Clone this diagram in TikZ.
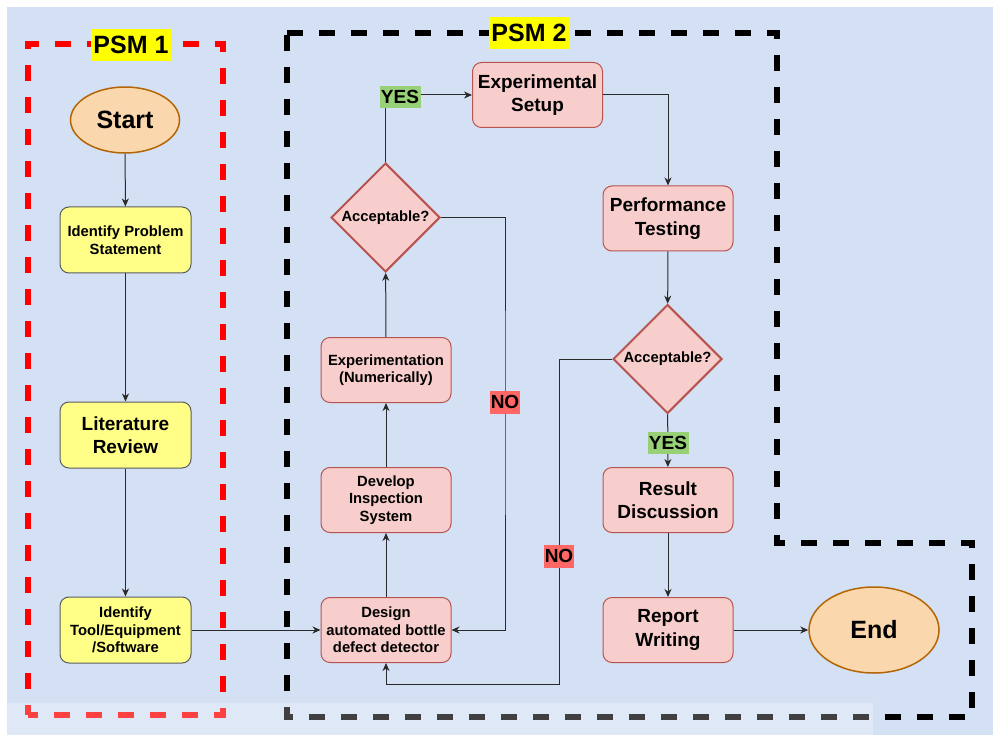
\documentclass[tikz,border=0pt]{standalone}
\usepackage{fontspec}
\setmainfont{Liberation Sans}
\usetikzlibrary{shapes.geometric,arrows.meta}

\definecolor{bgblue}{HTML}{D4E1F5}
\definecolor{pinkfill}{HTML}{F8CECC}
\definecolor{pinkline}{HTML}{B85450}
\definecolor{yelfill}{HTML}{FFFF88}
\definecolor{yelline}{HTML}{5A5C60}
\definecolor{orfill}{HTML}{FAD7AC}
\definecolor{orline}{HTML}{B46504}
\definecolor{yesgreen}{HTML}{97D077}
\definecolor{nored}{HTML}{FF6666}
\definecolor{psmyellow}{HTML}{FFFF00}
\definecolor{wire}{HTML}{2A2A2A}

\tikzset{
  smalltxt/.style={font=\bfseries\fontsize{14.8}{17.5}\selectfont},
  bigtxt/.style={font=\bfseries\fontsize{19}{23.5}\selectfont},
  yelbox/.style={rectangle, rounded corners=9pt, draw=yelline, line width=1pt,
    fill=yelfill, minimum width=131pt, minimum height=66pt, inner sep=1pt, align=center},
  pinkbox/.style={rectangle, rounded corners=9pt, draw=pinkline, line width=1pt,
    fill=pinkfill, minimum width=130pt, minimum height=65pt, inner sep=1pt, align=center},
  decide/.style={diamond, draw=pinkline, line width=2pt, fill=pinkfill,
    minimum width=109pt, minimum height=109pt, inner sep=0pt, smalltxt},
  terminal/.style={ellipse, draw=orline, line width=1.5pt, fill=orfill, inner sep=0pt,
    font=\bfseries\fontsize{25}{30}\selectfont},
  arr/.style={draw=wire, line width=1pt, -{Stealth[length=8pt,width=7pt,inset=2.5pt]}},
  yeslab/.style={fill=yesgreen, inner sep=0pt, minimum width=41pt, minimum height=22pt,
    font=\bfseries\fontsize{19}{22}\selectfont},
  nolab/.style={fill=nored, inner sep=0pt, minimum width=30pt, minimum height=23pt,
    font=\bfseries\fontsize{19}{22}\selectfont},
  psmlab/.style={fill=psmyellow, inner sep=0pt, minimum width=80pt, minimum height=32pt,
    font=\bfseries\fontsize{25}{30}\selectfont},
  phaseframe/.style={line width=5.5pt, dash pattern=on 16pt off 16pt},
}

\begin{document}
\begin{tikzpicture}[x=1pt, y=-1pt]
  \useasboundingbox (0,0) rectangle (993,735);
  \fill[white] (0,0) rectangle (993,735);
  \fill[bgblue] (7,7) rectangle (993,735);

  % phase frames
  \draw[phaseframe, draw=red, dash phase=6pt] (28,715) -- (28,44) -- (223,44)
    -- (223,715) -- cycle;
  \draw[phaseframe, draw=black] (287,33) -- (777,33) -- (777,543) -- (972,543)
    -- (972,717) -- (287,717) -- cycle;
  \node[psmlab] (psm1) at (131,45) {PSM 1};
  \node[psmlab] (psm2) at (529,33) {PSM 2};

  % PSM 1 steps
  \node[terminal, minimum width=109pt, minimum height=66pt] (start) at (125,120) {Start};
  \node[yelbox, smalltxt] (problem) at (125.5,240) {Identify Problem\\Statement};
  \node[yelbox, bigtxt] (review) at (125.5,435) {Literature\\Review};
  \node[yelbox, smalltxt] (tools) at (125.5,630) {Identify\\Tool/Equipment\\/Software};

  % PSM 2 steps
  \node[pinkbox, smalltxt] (design) at (386,630) {Design\\automated bottle\\defect detector};
  \node[pinkbox, smalltxt] (develop) at (386,500) {Develop\\Inspection\\System};
  \node[pinkbox, smalltxt] (numeric) at (386,370) {Experimentation\\(Numerically)};
  \node[decide] (check1) at (385.5,217.5) {Acceptable?};
  \node[pinkbox, bigtxt] (setup) at (537.5,95) {Experimental\\Setup};
  \node[pinkbox, bigtxt] (perf) at (668,218.5) {Performance\\Testing};
  \node[decide] (check2) at (667.5,359) {Acceptable?};
  \node[pinkbox, bigtxt] (result) at (668,500) {Result\\Discussion};
  \node[pinkbox, bigtxt] (report) at (668,630) {Report\\Writing};
  \node[terminal, minimum width=130pt, minimum height=86pt] (end) at (874,630) {End};

  % route points for the loops back to the design step
  \coordinate (no1pt) at (505,402);
  \coordinate (no2pt) at (559,556);
  \coordinate (loop2) at (559,684);

  % connectors
  \draw[arr] (start) -- (problem);
  \draw[arr] (problem) -- (review);
  \draw[arr] (review) -- (tools);
  \draw[arr] (tools) -- (design);
  \draw[arr] (design) -- (develop);
  \draw[arr] (develop) -- (numeric);
  \draw[arr] (numeric) -- (check1);
  \draw[arr] (check1.north) |- (setup.west);
  \draw[arr] (setup.east) -| (perf.north);
  \draw[arr] (perf) -- (check2);
  \draw[arr] (check2) -- (result);
  \draw[arr] (result) -- (report);
  \draw[arr] (report) -- (end);
  \draw[arr] (check1.east) -| (no1pt) |- (design.east);
  \draw[arr] (check2.west) -| (loop2) -| (design.south);

  % branch labels
  \node[yeslab] (yes1) at (400,97) {YES};
  \node[yeslab] (yes2) at (668,443) {YES};
  \node[nolab] (no1) at (no1pt) {NO};
  \node[nolab] (no2) at (no2pt) {NO};

  % pale strip along the lower edge
  \fill[white, opacity=0.25] (7,703) rectangle (873,735);
\end{tikzpicture}
\end{document}
